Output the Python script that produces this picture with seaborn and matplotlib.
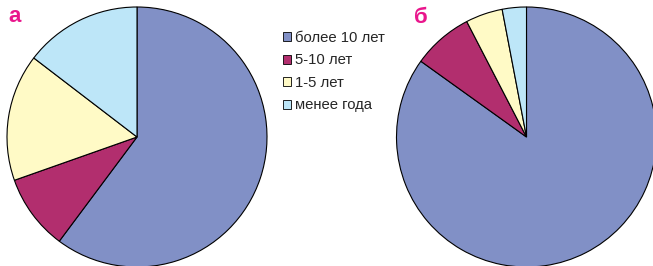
import seaborn as sns
import matplotlib.pyplot as plt

# data
categories = ['более 10 лет', '5-10 лет', '1-5 лет', 'менее года']
share_a = [60.2, 9.4, 15.8, 14.6]
share_b = [84.9, 7.5, 4.6, 3.0]
panel_labels = ['а', 'б']

colors = ['#8190C6', '#B22E6E', '#FFFAC6', '#BDE6F8']

sns.set_theme(style='white')
plt.rcParams['font.family'] = ['Liberation Sans', 'DejaVu Sans']

fig = plt.figure(figsize=(6.53, 2.66), dpi=100)
W, H = 653, 266

def pie_axes(cx, cy, r):
    # axes placed in pixel terms, centre (cx, cy) measured from top-left
    return fig.add_axes([(cx - r) / W, (H - cy - r) / H, 2 * r / W, 2 * r / H])

ax_a = pie_axes(137, 137, 130)
ax_b = pie_axes(526.5, 137, 130)

wedges = None
for ax, vals in [(ax_a, share_a), (ax_b, share_b)]:
    w, _ = ax.pie(vals, colors=colors, startangle=90, counterclock=False,
                  wedgeprops=dict(edgecolor='black', linewidth=0.8))
    for p in w:
        p.set_clip_on(False)
    ax.set_xlim(-1, 1)
    ax.set_ylim(-1, 1)
    ax.set_aspect('equal')
    ax.axis('off')
    if wedges is None:
        wedges = w

fig.text(8 / W, 1 - 22 / H, panel_labels[0], color='#E9168C', fontsize=16,
         fontweight='bold', va='baseline', ha='left')
fig.text(414 / W, 1 - 23 / H, panel_labels[1], color='#E9168C', fontsize=16,
         fontweight='bold', va='baseline', ha='left')

leg = fig.legend(wedges, categories, loc='upper left',
                 bbox_to_anchor=(283 / W, 1 - 31 / H), frameon=False,
                 fontsize=10.7, borderpad=0, borderaxespad=0,
                 handlelength=0.55, handleheight=0.55, handletextpad=0.25,
                 labelspacing=0.57)
for h in leg.legend_handles:
    h.set_linewidth(0.6)

fig.savefig('out.png', dpi=100)
